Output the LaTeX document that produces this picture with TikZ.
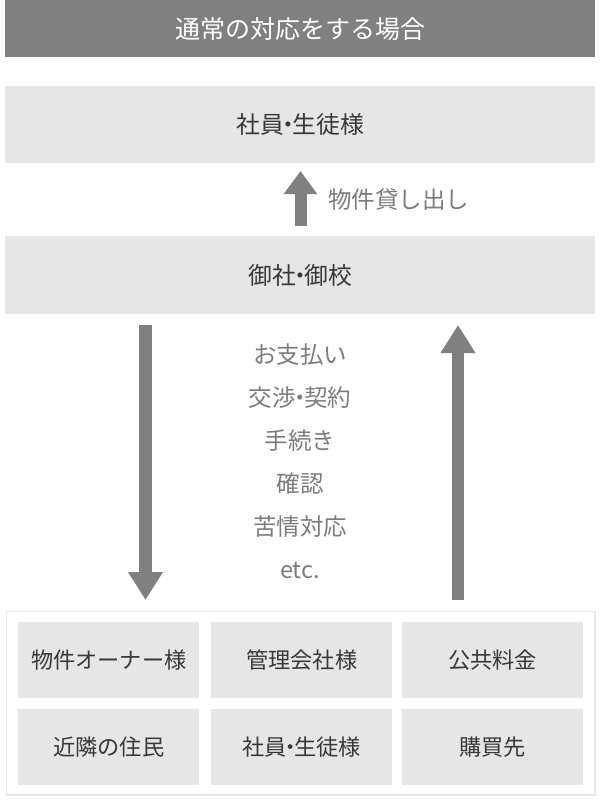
\documentclass[tikz,border=0pt]{standalone}
\usepackage{fontspec}
\setmainfont{Noto Sans CJK JP}
\usetikzlibrary{arrows.meta}
\newcommand\nkgr{\kern-0.32em・\kern-0.32em}
\definecolor{bar}{HTML}{808080}
\definecolor{boxbg}{HTML}{E6E6E6}
\definecolor{boxtxt}{HTML}{383838}
\definecolor{lbl}{HTML}{7C7C7C}
\definecolor{frame}{HTML}{E8E8E8}
\begin{document}
\begin{tikzpicture}[x=1pt,y=-1pt,
  titlebar/.style={fill=bar,draw=none,text=white,anchor=north west,inner sep=0pt,minimum width=590pt,minimum height=57pt,font=\fontsize{25}{28}\selectfont},
  band/.style={fill=boxbg,draw=none,text=boxtxt,anchor=north west,inner sep=0pt,minimum width=590pt,font=\fontsize{23.8}{26}\selectfont},
  cell/.style={fill=boxbg,draw=none,text=boxtxt,anchor=north west,inner sep=0pt,minimum width=181pt,minimum height=76pt,font=\fontsize{22.2}{24}\selectfont},
  container/.style={draw=frame,line width=1.5pt,anchor=north west,inner sep=0pt,minimum width=588.5pt,minimum height=183.5pt},
  lab/.style={text=lbl,inner sep=0pt,font=\fontsize{23.5}{26}\selectfont},
  bigarrow/.style={draw=bar,line width=12.5pt,line cap=butt,-{Triangle[width=33pt,length=28pt]}},
  smallarrow/.style={draw=bar,line width=12pt,line cap=butt,-{Triangle[width=32pt,length=23pt]}}]
\useasboundingbox (0,0) rectangle (600,801);
% title bar
\node[titlebar] (title) at (5,0) {通常の対応をする場合};
% top band
\node[band,minimum height=77pt] (staff) at (5,86) {社員\nkgr 生徒様};
% second band
\node[band,minimum height=78pt] (client) at (5,236) {御社\nkgr 御校};
% small arrow
\coordinate (sa1) at (300.5,226);
\coordinate (sa2) at (300.5,171);
\draw[smallarrow] (sa1) -- (sa2);
\node[lab,anchor=west] (lend) at (328,200) {物件貸し出し};
% big arrows
\coordinate (la1) at (145.5,325);
\coordinate (la2) at (145.5,600);
\coordinate (ra1) at (458,600);
\coordinate (ra2) at (458,325);
\draw[bigarrow] (la1) -- (la2);
\draw[bigarrow] (ra1) -- (ra2);
% middle labels
\node[lab] (m1) at (300,355) {お支払い};
\node[lab] (m2) at (300,398) {交渉\nkgr 契約};
\node[lab] (m3) at (300,441) {手続き};
\node[lab] (m4) at (300,484) {確認};
\node[lab] (m5) at (300,527) {苦情対応};
\node[lab] (m6) at (300,570) {etc.};
% container
\node[container] (box) at (5.75,610.75) {};
% cells
\node[cell] (c1) at (18,622) {物件オーナー様};
\node[cell] (c2) at (211,622) {管理会社様};
\node[cell] (c3) at (402,622) {公共料金};
\node[cell] (c4) at (18,709) {近隣の住民};
\node[cell] (c5) at (211,709) {社員\nkgr 生徒様};
\node[cell] (c6) at (402,709) {購買先};
\end{tikzpicture}
\end{document}
